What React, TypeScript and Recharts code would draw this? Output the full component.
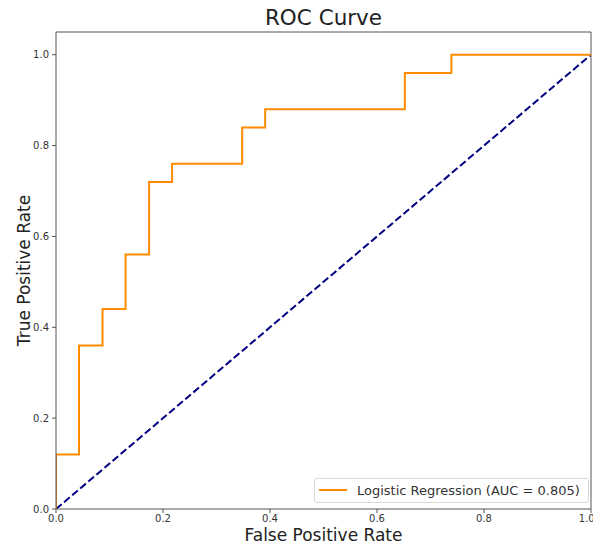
import { LineChart, Line, XAxis, YAxis, Legend, Label, ReferenceLine } from 'recharts'

// roc_curve output (corner points only)
const fpr = [0, 0, 0.043, 0.043, 0.087, 0.087, 0.13, 0.13, 0.174, 0.174, 0.217, 0.217, 0.348, 0.348, 0.391, 0.391, 0.652, 0.652, 0.739, 0.739, 1]
const tpr = [0, 0.12, 0.12, 0.36, 0.36, 0.44, 0.44, 0.56, 0.56, 0.72, 0.72, 0.76, 0.76, 0.84, 0.84, 0.88, 0.88, 0.96, 0.96, 1, 1]

const chanceFpr = [0, 1]
const chanceTpr = [0, 1]

const ticks = [0, 0.2, 0.4, 0.6, 0.8, 1.0]
const aucLabel = 'Logistic Regression (AUC = 0.805)'

const FONT = '"DejaVu Sans", sans-serif'

const rocData = fpr.map((x, i) => ({ fpr: x, tpr: tpr[i] }))
const chanceData = chanceFpr.map((x, i) => ({ fpr: x, tpr: chanceTpr[i] }))

const tickStyle = { fontSize: 10, fill: '#333', fontFamily: FONT }

function LegendBox({ payload }: any) {
  const items = (payload || []).filter((p: any) => p.type !== 'none')
  return (
    <div
      style={{
        border: '1px solid #d9d9d9',
        borderRadius: 3,
        background: 'rgba(255,255,255,0.8)',
        padding: '3px 8px 3px 4px',
        fontFamily: FONT,
        fontSize: 13,
        color: '#333',
        whiteSpace: 'nowrap',
        display: 'inline-block',
      }}
    >
      {items.map((p: any) => (
        <div key={p.value} style={{ display: 'flex', alignItems: 'center', height: 17 }}>
          <span style={{ display: 'inline-block', width: 28, height: 2, background: p.color, marginRight: 10 }} />
          {p.value}
        </div>
      ))}
    </div>
  )
}

export default function App() {
  return (
    <div style={{ position: 'absolute', left: 0, top: 0, width: 593, height: 545, overflow: 'hidden', background: '#fff' }}>
      <div
        style={{
          position: 'absolute',
          left: 56,
          width: 535,
          top: 5,
          textAlign: 'center',
          fontFamily: FONT,
          fontSize: 21.5,
          color: '#222',
        }}
      >
        ROC Curve
      </div>
      <LineChart width={593} height={545} margin={{ top: 32, right: 2, bottom: 0, left: 0 }}>
        <XAxis
          dataKey="fpr"
          type="number"
          domain={[0, 1]}
          ticks={ticks}
          tickFormatter={(v: number) => v.toFixed(1)}
          tick={tickStyle}
          tickSize={4}
          tickMargin={2}
          height={36}
          stroke="#555"
          allowDataOverflow
        >
          <Label
            value="False Positive Rate"
            position="insideBottom"
            offset={4}
            style={{ fontSize: 17, fontFamily: FONT, fill: '#222' }}
          />
        </XAxis>
        <YAxis
          type="number"
          domain={[0, 1.05]}
          ticks={ticks}
          tickFormatter={(v: number) => v.toFixed(1)}
          tick={tickStyle}
          tickSize={4}
          tickMargin={3}
          width={56}
          stroke="#555"
          allowDataOverflow
        >
          <Label
            content={({ viewBox }: any) => {
              const cx = 24
              const cy = viewBox.y + viewBox.height / 2
              return (
                <text
                  x={cx}
                  y={cy}
                  transform={`rotate(-90 ${cx} ${cy})`}
                  textAnchor="middle"
                  dominantBaseline="central"
                  style={{ fontSize: 17, fontFamily: FONT, fill: '#222' }}
                >
                  True Positive Rate
                </text>
              )
            }}
          />
        </YAxis>
        {/* top and right spines */}
        <ReferenceLine y={1.05} stroke="#555" strokeWidth={1} ifOverflow="visible" />
        <ReferenceLine x={1} stroke="#555" strokeWidth={1} ifOverflow="visible" />
        <Line
          data={chanceData}
          dataKey="tpr"
          type="linear"
          stroke="#000080"
          strokeWidth={2}
          strokeDasharray="7.4 3.2"
          dot={false}
          activeDot={false}
          legendType="none"
          isAnimationActive={false}
        />
        <Line
          data={rocData}
          dataKey="tpr"
          name={aucLabel}
          type="linear"
          stroke="#ff8c00"
          strokeWidth={2}
          dot={false}
          activeDot={false}
          isAnimationActive={false}
        />
        <Legend
          verticalAlign="middle"
          layout="horizontal"
          content={<LegendBox />}
          wrapperStyle={{ position: 'absolute', left: 314, top: 477, width: 'auto', right: 'auto', bottom: 'auto' }}
        />
      </LineChart>
    </div>
  )
}
